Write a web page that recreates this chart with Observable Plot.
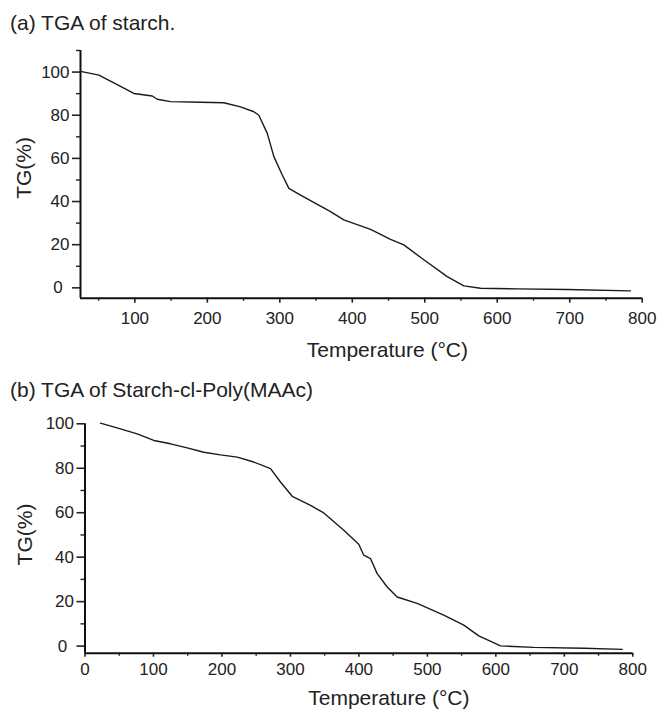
<!DOCTYPE html>
<html><head><meta charset="utf-8">
<script src="https://cdn.jsdelivr.net/npm/d3@7"></script>
<script src="https://cdn.jsdelivr.net/npm/@observablehq/plot@0.6"></script>
<style>
body{margin:0;background:#fff;}
#root{position:relative;width:658px;height:709px;overflow:hidden;font-family:"Liberation Sans",Arial,sans-serif;color:#222;background:#fff;}
.title{position:absolute;left:10px;font-size:21px;line-height:21px;white-space:nowrap;}
.panel{position:absolute;left:0;}
</style></head><body>
<div id="root">
  <div class="title" id="ta" style="top:12px"></div>
  <div class="panel" id="pa" style="top:40px"></div>
  <div class="title" id="tb" style="top:379px"></div>
  <div class="panel" id="pb" style="top:405px"></div>
</div>
<script>
const titleA = "(a) TGA of starch.";
const titleB = "(b) TGA of Starch-cl-Poly(MAAc)";
const xTitle = "Temperature (°C)";
const yTitle = "TG(%)";

// Panel (a): starch
const tempA = [25.1, 50.4, 71.0, 98.6, 124.0, 130.9, 149.3, 190.6, 222.8, 245.8, 264.2, 271.1, 282.7, 291.8, 303.4, 312.5, 328.6, 370.0, 388.3, 425.2, 452.8, 471.1, 498.7, 531.0, 553.9, 576.9, 627.5, 696.5, 783.8];
const tgA   = [100.3, 98.6, 95.0, 90.1, 88.9, 87.4, 86.3, 86.0, 85.8, 83.9, 81.6, 80.0, 71.6, 60.8, 52.3, 46.1, 43.0, 35.3, 31.5, 27.1, 22.5, 19.9, 13.0, 5.2, 0.9, -0.2, -0.5, -0.8, -1.4];

// Panel (b): Starch-cl-Poly(MAAc)
const tempB = [22.6, 51.8, 76.2, 100.5, 124.9, 149.2, 173.5, 197.9, 222.3, 246.5, 270.9, 285.5, 302.6, 329.3, 348.7, 358.5, 377.9, 399.8, 407.1, 416.9, 426.7, 441.3, 455.9, 485.1, 523.9, 553.2, 575.1, 606.8, 655.4, 728.4, 784.5];
const tgB   = [100.3, 97.7, 95.5, 92.5, 91.0, 89.2, 87.2, 86.0, 85.0, 82.8, 79.8, 73.8, 67.4, 63.3, 59.9, 57.3, 52.1, 45.8, 40.9, 39.4, 32.6, 26.6, 22.1, 19.2, 13.9, 9.4, 4.6, 0.1, -0.6, -1.0, -1.5];

const xTicksA = [100, 200, 300, 400, 500, 600, 700, 800];
const xTicksB = [0, 100, 200, 300, 400, 500, 600, 700, 800];
const xMinor = [50, 150, 250, 350, 450, 550, 650, 750];
const yTicks = [0, 20, 40, 60, 80, 100];
const yMinorA = [10, 30, 50, 70, 90, 110];
const yMinorB = [10, 30, 50, 70, 90];

document.getElementById("ta").textContent = titleA;
document.getElementById("tb").textContent = titleB;

const yFmt = d => d === 0 ? "0\u2009\u2009" : String(d);

function panel(cfg) {
  const data = cfg.temp.map((t, i) => ({t, v: cfg.tg[i]}));
  return Plot.plot({
    width: 658,
    height: cfg.height,
    marginLeft: cfg.ml,
    marginRight: cfg.mr,
    marginTop: cfg.mt,
    marginBottom: cfg.mb,
    style: {fontFamily: '"Liberation Sans", Arial, sans-serif', color: "#222", background: "#fff", overflow: "visible"},
    x: {domain: cfg.xd, label: null},
    y: {domain: cfg.yd, label: null},
    marks: [
      Plot.axisX({ticks: cfg.xTicks, tickSize: cfg.xTickSize, tickPadding: cfg.xPad, fontSize: 17, strokeWidth: 1.6, label: null, tickFormat: d => String(d)}),
      Plot.axisX({ticks: xMinor, tickSize: 3, tickPadding: 0, strokeWidth: 1.4, label: null, tickFormat: () => ""}),
      Plot.axisY({ticks: yTicks, tickSize: 8, tickPadding: 3, fontSize: 17, strokeWidth: 1.6, label: null, tickFormat: yFmt}),
      Plot.axisY({ticks: cfg.yMinor, tickSize: 4, tickPadding: 0, strokeWidth: 1.4, label: null, tickFormat: () => ""}),
      Plot.ruleX([cfg.xd[0]], {stroke: "#111", strokeWidth: 2}),
      Plot.ruleY([cfg.yd[0]], {stroke: "#111", strokeWidth: 2}),
      Plot.line(data, {x: "t", y: "v", stroke: "#1a1a1a", strokeWidth: 1.4}),
      Plot.text([xTitle], {frameAnchor: "bottom", lineAnchor: "top", textAnchor: "middle", dx: cfg.xtDx, dy: cfg.xtDy, fontSize: 21, fill: "#222"}),
      Plot.text([yTitle], {frameAnchor: "left", lineAnchor: "middle", textAnchor: "middle", rotate: -90, dx: cfg.ytDx, dy: cfg.ytDy, fontSize: 21, fill: "#222"})
    ]
  });
}

document.getElementById("pa").appendChild(panel({
  temp: tempA, tg: tgA, height: 320, ml: 80, mr: 16.3, mt: 10, mb: 62.3,
  xd: [25, 800], yd: [-4.8, 110], xTicks: xTicksA, yMinor: yMinorA,
  xTickSize: 5, xPad: 9, xtDx: 26, xtDy: 44, ytDx: -56, ytDy: -6.4
}));

document.getElementById("pb").appendChild(panel({
  temp: tempB, tg: tgB, height: 304, ml: 84.5, mr: 25.7, mt: 18.3, mb: 56.3,
  xd: [0, 800], yd: [-3.2, 100], xTicks: xTicksB, yMinor: yMinorB,
  xTickSize: 4, xPad: 6, xtDx: 30, xtDy: 37, ytDx: -59.5, ytDy: -4
}));
</script>
</body></html>
